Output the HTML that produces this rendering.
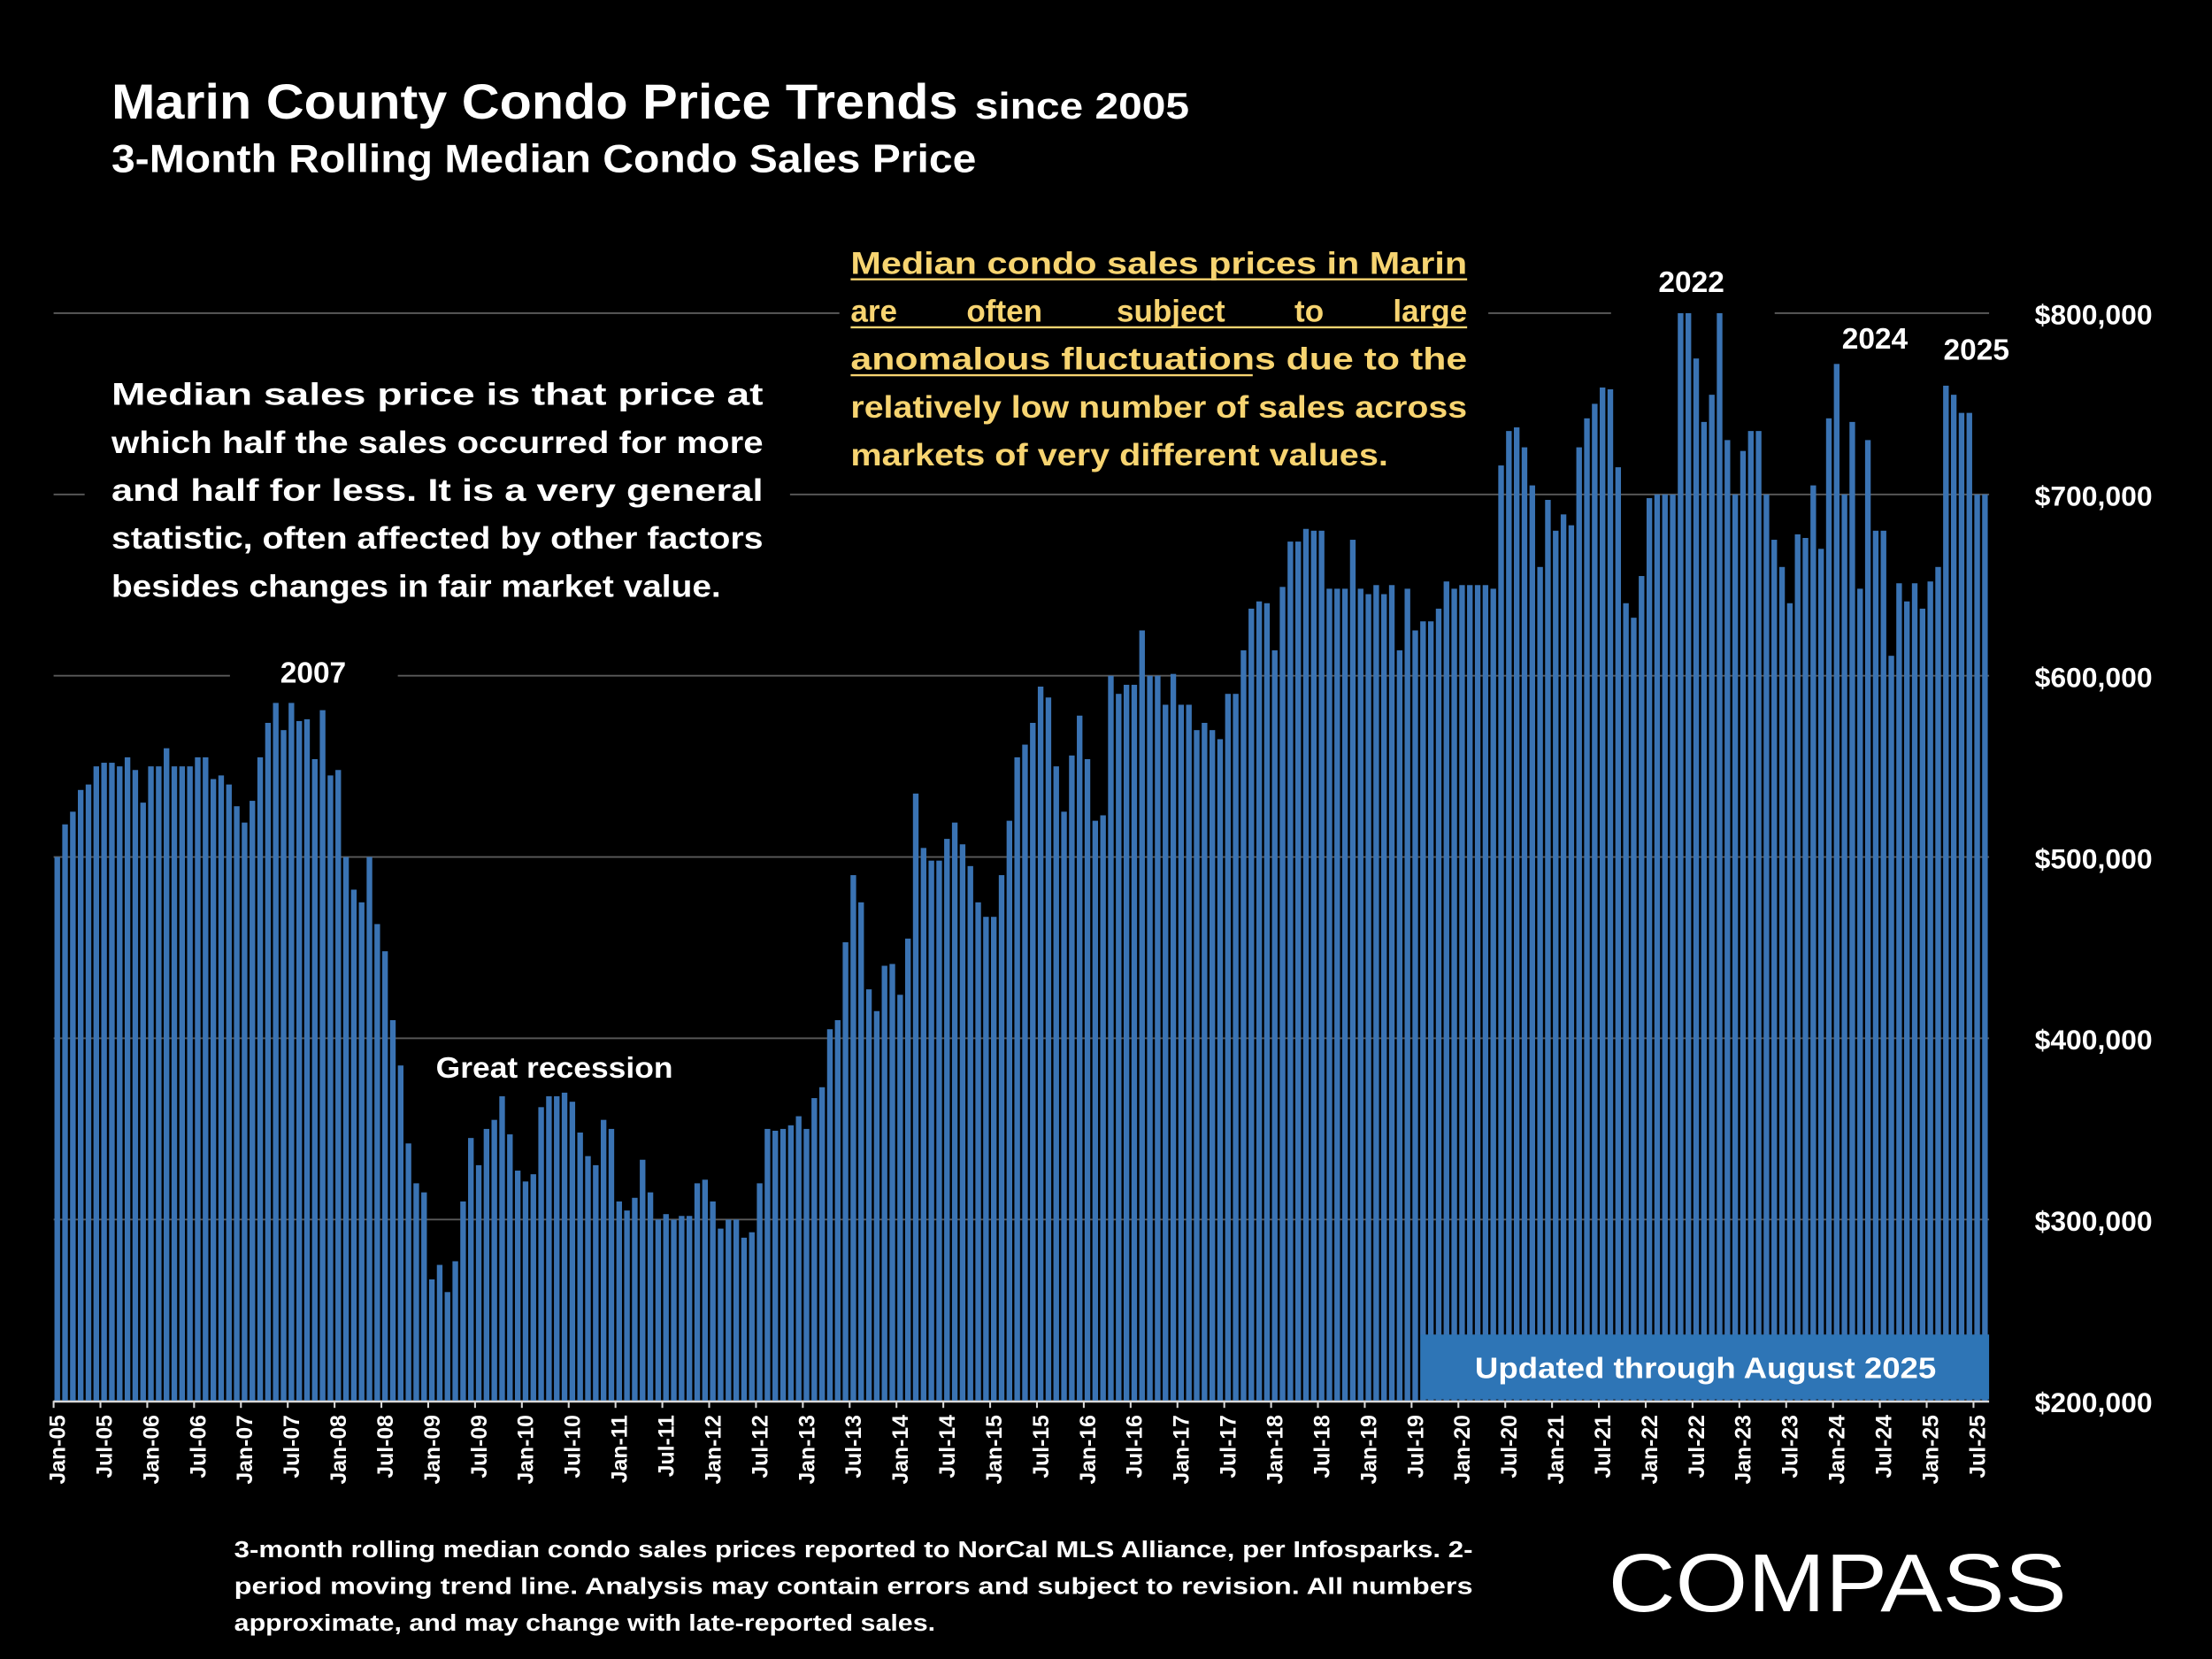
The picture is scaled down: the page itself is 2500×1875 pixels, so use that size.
<!DOCTYPE html>
<html><head><meta charset="utf-8"><style>
html,body{margin:0;padding:0;background:#000;}
svg{display:block;}
text{font-family:"Liberation Sans",sans-serif;font-weight:bold;}
</style></head><body>
<svg id="chart" width="2500" height="1875" viewBox="0 0 1568 1176" preserveAspectRatio="none">
<rect width="1568" height="1176" fill="#000"/>
<g id="grid"></g>
<g id="masks"></g>
<g id="bars"></g>
<g id="axis"></g>
<g id="ylabels"></g>

<text x="79" y="84" fill="#fff" font-size="35" textLength="600" lengthAdjust="spacingAndGlyphs">Marin County Condo Price Trends</text>
<text x="691" y="84" fill="#fff" font-size="26" textLength="152" lengthAdjust="spacingAndGlyphs">since 2005</text>
<text x="79" y="122" fill="#fff" font-size="28" textLength="613" lengthAdjust="spacingAndGlyphs">3-Month Rolling Median Condo Sales Price</text>

<g fill="#fff" font-size="22">
<text x="79" y="287" textLength="462" lengthAdjust="spacingAndGlyphs">Median sales price is that price at</text>
<text x="79" y="321" textLength="462" lengthAdjust="spacingAndGlyphs">which half the sales occurred for more</text>
<text x="79" y="355" textLength="462" lengthAdjust="spacingAndGlyphs">and half for less. It is a very general</text>
<text x="79" y="389" textLength="462" lengthAdjust="spacingAndGlyphs">statistic, often affected by other factors</text>
<text x="79" y="423" textLength="432" lengthAdjust="spacingAndGlyphs">besides changes in fair market value.</text>
</g>
<g fill="#f7d471" font-size="22">
<text x="603" y="194" textLength="437" lengthAdjust="spacingAndGlyphs">Median condo sales prices in Marin</text>
<line x1="603" y1="198" x2="1040" y2="198" stroke="#f7d471" stroke-width="1.5"/>
<text x="603" y="228">are</text>
<text x="712" y="228" text-anchor="middle">often</text>
<text x="830" y="228" text-anchor="middle">subject</text>
<text x="928" y="228" text-anchor="middle">to</text>
<text x="1040" y="228" text-anchor="end">large</text>
<line x1="603" y1="232" x2="1040" y2="232" stroke="#f7d471" stroke-width="1.5"/>
<text x="603" y="262" textLength="437" lengthAdjust="spacingAndGlyphs">anomalous fluctuations due to the</text>
<line x1="603" y1="266" x2="888" y2="266" stroke="#f7d471" stroke-width="1.5"/>
<text x="603" y="296" textLength="437" lengthAdjust="spacingAndGlyphs">relatively low number of sales across</text>
<text x="603" y="330" textLength="381" lengthAdjust="spacingAndGlyphs">markets of very different values.</text>
</g>

<text x="222" y="484" fill="#fff" font-size="21" text-anchor="middle">2007</text>
<text x="393" y="764" fill="#fff" font-size="21" text-anchor="middle" textLength="168" lengthAdjust="spacingAndGlyphs">Great recession</text>
<text x="1199" y="207" fill="#fff" font-size="21" text-anchor="middle">2022</text>
<text x="1329" y="247" fill="#fff" font-size="21" text-anchor="middle">2024</text>
<text x="1401" y="255" fill="#fff" font-size="21" text-anchor="middle">2025</text>

<rect x="1007" y="946" width="403" height="46" fill="#2e75b6"/>
<text x="1209" y="977" fill="#fff" font-size="21" text-anchor="middle" textLength="327" lengthAdjust="spacingAndGlyphs">Updated through August 2025</text>

<g fill="#fff" font-size="16.5">
<text x="166" y="1104" textLength="878" lengthAdjust="spacingAndGlyphs">3-month rolling median condo sales prices reported to NorCal MLS Alliance, per Infosparks. 2-</text>
<text x="166" y="1130" textLength="878" lengthAdjust="spacingAndGlyphs">period moving trend line. Analysis may contain errors and subject to revision. All numbers</text>
<text x="166" y="1156" textLength="497" lengthAdjust="spacingAndGlyphs">approximate, and may change with late-reported sales.</text>
</g>
<text x="1140" y="1142" fill="#fff" font-size="58" style="font-weight:normal" textLength="325" lengthAdjust="spacingAndGlyphs">COMPASS</text>
</svg>
<script>
const categories = [];
const years = ["05","06","07","08","09","10","11","12","13","14","15","16","17","18","19","20","21","22","23","24","25"];
const months = ["Jan","Feb","Mar","Apr","May","Jun","Jul","Aug","Sep","Oct","Nov","Dec"];
years.forEach(y => months.forEach(m => categories.push(m + "-" + y)));
categories.length = 248;
const prices = [
500,518,525,537,540,550,552,552,550,555,548,530,
550,550,560,550,550,550,555,555,543,545,540,528,
519,531,555,574,585,570,585,575,576,554,581,545,
548,500,482,475,500,463,448,410,385,342,320,315,
267,275,260,277,310,345,330,350,355,368,347,327,
321,325,362,368,368,370,365,348,335,330,355,350,
310,305,312,333,315,300,303,300,302,302,320,322,
310,295,300,300,290,293,320,350,349,350,352,357,
350,367,373,405,410,453,490,475,427,415,440,441,
424,455,535,505,498,498,510,519,507,495,475,467,
467,490,520,555,562,574,594,588,550,525,556,578,
554,520,523,600,590,595,595,625,600,600,584,601,
584,584,570,574,570,565,590,590,614,637,641,640,
614,649,674,674,681,680,680,648,648,648,675,648,
645,650,645,650,614,648,625,630,630,637,652,648,
650,650,650,650,648,716,735,737,726,705,660,697,
680,689,683,726,742,750,759,758,715,640,632,655,
698,700,700,700,800,800,775,740,755,800,730,700,
724,735,735,700,675,660,640,678,676,705,670,742,
772,700,740,648,730,680,680,611,651,641,651,637,
652,660,760,755,745,745,700,700];
const yTicks = [200,300,400,500,600,700,800];
const yTickLabels = ["$200,000","$300,000","$400,000","$500,000","$600,000","$700,000","$800,000"];

const NS = "http://www.w3.org/2000/svg";
const X0 = 38, X1 = 1410, Y0 = 993, Y1 = 222, YMIN = 200, YMAX = 800;
const step = (X1 - X0) / categories.length;
const xScale = i => X0 + step * i;
const yScale = v => Y0 - (v - YMIN) / (YMAX - YMIN) * (Y0 - Y1);
function mk(tag, attrs, parent){ const e = document.createElementNS(NS, tag); for (const k in attrs) e.setAttribute(k, attrs[k]); parent.appendChild(e); return e; }

const grid = document.getElementById('grid');
const ylab = document.getElementById('ylabels');
yTicks.forEach((t, i) => {
  const l = mk('line', {x1: X0, x2: X1, y1: yScale(t), y2: yScale(t), stroke: '#5a5a5a', 'stroke-width': 1.2}, grid);
  
  
  const tx = mk('text', {x: 1484, y: yScale(t) + 8, fill: '#fff', 'font-size': 20, 'text-anchor': 'middle'}, ylab);
  tx.textContent = yTickLabels[i];
  
  
});
const masks = document.getElementById('masks');
[[60,250,500,185],[595,165,460,172],[163,458,119,36],[1142,182,116,44],[1295,225,66,28]].forEach(r => {
  mk('rect', {x: r[0], y: r[1], width: r[2], height: r[3], fill: '#000'}, masks);
});

const bars = document.getElementById('bars');
prices.forEach((v, i) => {
  const r = mk('rect', {x: xScale(i) + 0.6, y: yScale(v), width: step * 0.72, height: Y0 - yScale(v), fill: '#3a73b3'}, bars);
  
  
});

const axis = document.getElementById('axis');
mk('line', {x1: X0, x2: X1, y1: Y0 + 0.5, y2: Y0 + 0.5, stroke: '#d9d9d9', 'stroke-width': 1.5}, axis);
for (let i = 0; i < categories.length; i += 6) {
  const x = xScale(i) + 0.6 + step * 0.36;
  mk('line', {x1: xScale(i), x2: xScale(i), y1: Y0, y2: Y0 + 5, stroke: '#d9d9d9', 'stroke-width': 1.3}, axis);
  const t = mk('text', {x: 0, y: 0, fill: '#fff', 'font-size': 15.5, 'text-anchor': 'end', transform: `translate(${x + 5.5},${Y0 + 10}) rotate(-90)`}, axis);
  t.textContent = categories[i];
  
  
}
</script>
</body></html>
